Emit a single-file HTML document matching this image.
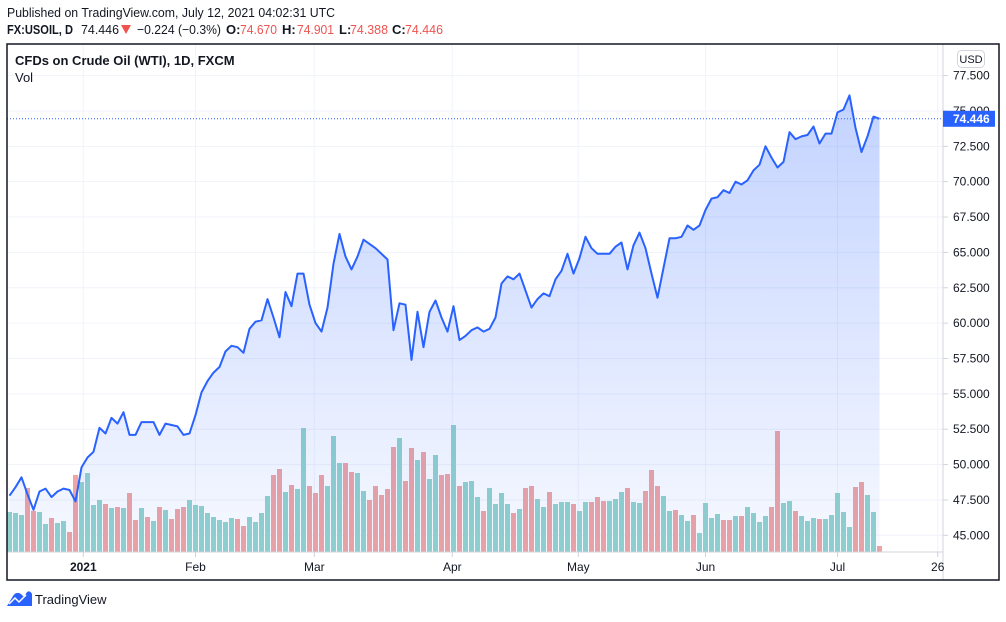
<!DOCTYPE html>
<html><head><meta charset="utf-8">
<style>
body{margin:0;background:#fff;width:1006px;height:617px;overflow:hidden;font-family:"Liberation Sans",sans-serif;}
svg text{font-family:"Liberation Sans",sans-serif;}
</style></head>
<body>
<svg id="chart" width="1006" height="617" viewBox="0 0 1006 617">
<defs>
<linearGradient id="fillg" x1="0" y1="0" x2="0" y2="1">
<stop offset="0" stop-color="#2962ff" stop-opacity="0.28"/>
<stop offset="1" stop-color="#2962ff" stop-opacity="0.04"/>
</linearGradient>
</defs>
<text x="7" y="17" font-size="13" fill="#131722" textLength="328" lengthAdjust="spacingAndGlyphs">Published on TradingView.com, July 12, 2021 04:02:31 UTC</text>
<g font-size="13">
<text x="7" y="34" fill="#131722" font-weight="bold" textLength="66" lengthAdjust="spacingAndGlyphs">FX:USOIL, D</text>
<text x="81" y="34" fill="#131722" textLength="38" lengthAdjust="spacingAndGlyphs">74.446</text>
<path d="M121 25 L131 25 L126 34 Z" fill="#ef5350"/>
<text x="137" y="34" fill="#131722" textLength="84" lengthAdjust="spacingAndGlyphs">−0.224 (−0.3%)</text>
<text x="226" y="34" fill="#131722" font-weight="bold">O:</text><text x="240" y="34" fill="#ef5350" textLength="37" lengthAdjust="spacingAndGlyphs">74.670</text>
<text x="282" y="34" fill="#131722" font-weight="bold">H:</text><text x="297" y="34" fill="#ef5350" textLength="37" lengthAdjust="spacingAndGlyphs">74.901</text>
<text x="339" y="34" fill="#131722" font-weight="bold">L:</text><text x="350" y="34" fill="#ef5350" textLength="38" lengthAdjust="spacingAndGlyphs">74.388</text>
<text x="392" y="34" fill="#131722" font-weight="bold">C:</text><text x="405" y="34" fill="#ef5350" textLength="38" lengthAdjust="spacingAndGlyphs">74.446</text>
</g>
<g id="grid"></g>
<g id="vol"></g>
<g id="area"></g>
<g id="axis"></g>
<g id="xaxis"></g>
<rect x="7" y="44" width="992" height="536" fill="none" stroke="#131722" stroke-width="1.5"/>
<text x="15" y="65" font-size="13" font-weight="bold" fill="#131722">CFDs on Crude Oil (WTI), 1D, FXCM</text>
<text x="15" y="82" font-size="13" fill="#131722">Vol</text>
<g>
<rect x="957.5" y="50.5" width="27" height="17" rx="4" fill="#fff" stroke="#d1d4dc"/>
<text x="971" y="63" font-size="11" fill="#131722" text-anchor="middle">USD</text>
</g>
<g>
<path d="M7 606 L13 596 Q16 591 21 594 L24 597 L27 592 Q30 590 32 594 L32 606 Z" fill="#2962ff"/>
<path d="M9 604 L15 598 L19 602 L26 595" fill="none" stroke="#fff" stroke-width="1.5"/>
<text x="35" y="604" font-size="13" fill="#131722">TradingView</text>
</g>
</svg>
<script>
const closes=[47.8,48.4,49.1,47.9,46.8,48.1,48.3,47.7,48.1,48.3,48.2,47.4,49.8,50.5,50.9,52.6,52.2,53.3,52.9,53.7,52.1,52.1,53.0,53.0,53.0,52.1,52.9,52.8,52.7,52.1,52.2,53.5,55.1,55.9,56.5,56.9,58.0,58.4,58.3,57.9,59.6,60.1,60.2,61.7,60.4,59.0,62.2,61.2,63.5,63.5,61.3,60.0,59.4,61.1,64.2,66.3,64.7,63.8,64.7,65.9,65.6,65.3,64.9,64.5,59.5,61.4,61.3,57.4,60.8,58.3,60.8,61.6,60.4,59.4,61.2,58.8,59.1,59.5,59.7,59.4,59.6,60.4,62.8,63.3,63.1,63.5,62.3,61.1,61.7,62.1,61.9,63.1,63.7,64.9,63.5,64.6,66.1,65.3,64.9,64.9,64.9,65.4,65.7,63.8,65.5,66.4,65.3,63.5,61.8,63.9,66.0,66.0,66.1,66.9,66.6,66.9,68.0,68.8,68.9,69.4,69.2,70.0,69.8,70.1,70.8,71.2,72.5,71.7,71.0,71.4,73.5,73.0,73.2,73.3,73.9,72.7,73.4,73.4,74.9,75.1,76.1,73.8,72.1,73.2,74.6,74.446];
const volumes=[40,39,37,64,41,40,28,34,29,31,20,77,70,79,47,52,48,44,45,44,59,32,44,35,31,45,42,33,43,45,52,47,46,39,35,32,30,34,33,26,35,30,39,56,77,83,60,67,63,124,66,59,77,66,116,89,89,80,79,61,52,66,57,63,105,114,71,104,92,100,73,97,77,78,127,66,70,71,55,41,64,48,59,48,39,43,64,66,53,45,60,48,50,50,48,41,50,50,55,51,51,53,60,64,50,49,61,82,66,56,41,42,37,31,37,19,49,34,38,32,32,36,36,45,39,30,36,45,121,49,51,41,36,31,34,33,33,37,59,40,25,65,70,57,40,6];
const volDir="gggrrggrgg"+"rrggggrgrg"+"rrgrgrgrrr"+"ggggggggrr"+"ggggrrgrgg"+"rrrgggrrgg"+"rrrrrgrrgr"+"ggrrgrgggr"+"ggggrgrrgg"+"rgggrggrrr"+"gggrggrrrg"+"grggrggggr"+"rgrggggrrg"+"grgggrgggg"+"grrggr";
const priceTicks=[45,47.5,50,52.5,55,57.5,60,62.5,65,67.5,70,72.5,75,77.5];
const monthLabels=["2021","Feb","Mar","Apr","May","Jun","Jul","26"];
const monthIndex=[12.3,31,50.8,73.8,94.8,116,138,154.7];
const lastPrice=74.446;

const NS="http://www.w3.org/2000/svg";
const xOf=i=>9.5+i*6;
const yOf=p=>535.3-(p-45)*14.145;
const yVol=v=>552-v;
function mk(tag,attrs,parent){const e=document.createElementNS(NS,tag);for(const k in attrs)e.setAttribute(k,attrs[k]);parent.appendChild(e);return e;}
const grid=document.getElementById('grid'),vol=document.getElementById('vol'),area=document.getElementById('area'),axis=document.getElementById('axis'),xaxis=document.getElementById('xaxis');

priceTicks.forEach(t=>{
 const y=yOf(t);
 const l=mk('line',{x1:7,x2:943,y1:y,y2:y,stroke:'#f0f3fa','stroke-width':1},grid);
 
 
 const tk=mk('line',{x1:943,x2:948,y1:y,y2:y,stroke:'#d1d4dc'},axis);
 
 
 const tx=mk('text',{x:953,y:y+4,'font-size':12,fill:'#131722'},axis);
 tx.textContent=t.toFixed(3);
 
 
});
monthLabels.forEach((m,k)=>{
 const x=xOf(monthIndex[k]);
 const l=mk('line',{x1:x,x2:x,y1:44,y2:552,stroke:'#f0f3fa'},grid);
 
 
 const tk=mk('line',{x1:x,x2:x,y1:552,y2:557,stroke:'#d1d4dc'},xaxis);
 
 
 const tx=mk('text',{x:x,y:571,'font-size':12,fill:'#131722','text-anchor':'middle','font-weight':m==='2021'?'bold':'normal'},xaxis);
 tx.textContent=m;
 
 
});
mk('line',{x1:943,x2:943,y1:44,y2:580,stroke:'#d1d4dc'},axis);
mk('line',{x1:7,x2:943,y1:552,y2:552,stroke:'#d1d4dc'},axis);

volumes.forEach((v,i)=>{
 const r=mk('rect',{x:xOf(i)-2.5,y:yVol(v),width:5,height:v,fill:volDir[i]==='r'?'#f0a4a3':'#92d3cc'},vol);
 
 
});

let d='';
closes.forEach((c,i)=>{d+=(i?'L':'M')+xOf(i).toFixed(1)+' '+yOf(c).toFixed(1)+' ';});
const fill=mk('path',{d:d+'L'+xOf(closes.length-1)+' 552 L'+xOf(0)+' 552 Z',fill:'url(#fillg)'},area);


const line=mk('path',{d:d,fill:'none',stroke:'#2962ff','stroke-width':2,'stroke-linejoin':'round'},area);



const ly=yOf(lastPrice);
const dl=mk('line',{x1:7,x2:943,y1:ly,y2:ly,stroke:'#2962ff','stroke-width':1,'stroke-dasharray':'1 2'},axis);


const lb=mk('rect',{x:943,y:ly-8,width:52,height:16,fill:'#2962ff'},axis);


const lt=mk('text',{x:953,y:ly+4,'font-size':12,fill:'#fff','font-weight':'bold'},axis);
lt.textContent=lastPrice.toFixed(3);


</script>
</body></html>
